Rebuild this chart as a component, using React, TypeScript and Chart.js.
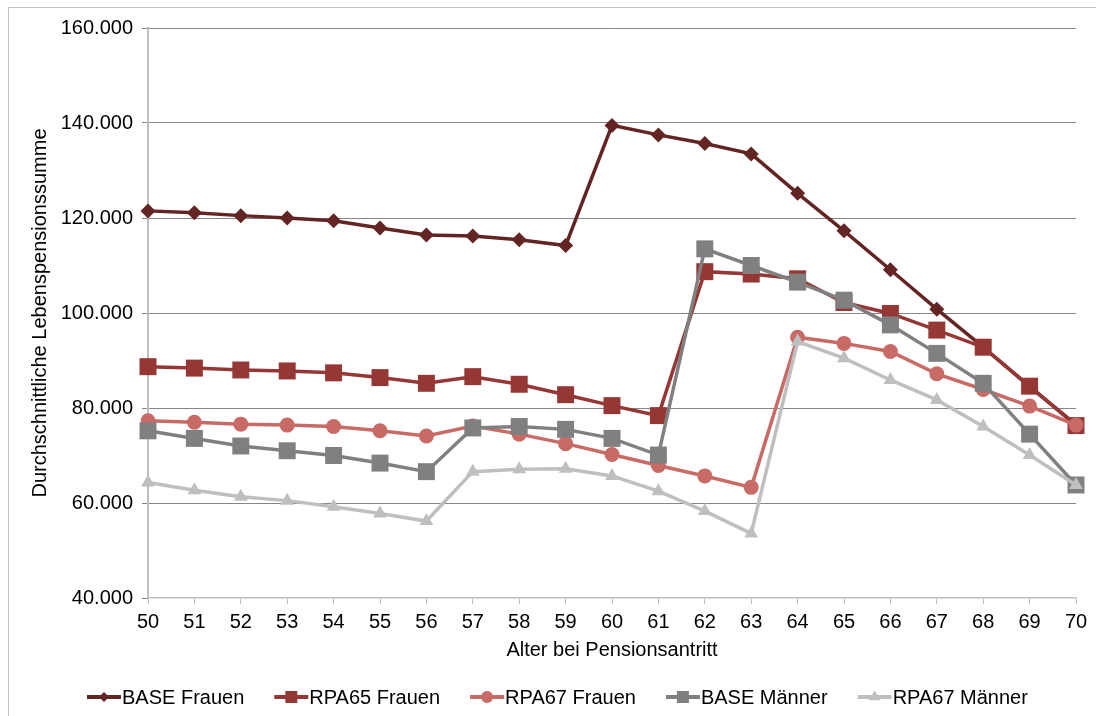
import { useEffect, useRef } from 'react';
import { Chart, registerables } from 'chart.js';

Chart.register(...registerables);

// Alter bei Pensionsantritt
const ages = ['50', '51', '52', '53', '54', '55', '56', '57', '58', '59', '60', '61', '62', '63', '64', '65', '66', '67', '68', '69', '70'];

// Durchschnittliche Lebenspensionssumme je Szenario
const baseFrauen = [121500, 121100, 120500, 120000, 119400, 117900, 116400, 116200, 115400, 114200, 139500, 137500, 135700, 133500, 125200, 117300, 109100, 100800, 92800, 84500, 76500];
const rpa65Frauen = [88700, 88400, 88000, 87800, 87400, 86400, 85200, 86600, 85000, 82800, 80500, 78400, 108700, 108200, 107200, 102200, 99900, 96400, 92800, 84600, 76300];
const rpa67Frauen = [77300, 77000, 76600, 76400, 76100, 75200, 74100, 76200, 74500, 72500, 70200, 67900, 65700, 63300, 94900, 93600, 91900, 87200, 83900, 80400, 76400];
const baseMaenner = [75200, 73600, 72000, 71000, 70000, 68400, 66600, 75800, 76100, 75500, 73600, 70100, 113500, 110000, 106500, 102700, 97500, 91500, 85200, 74500, 63800];
const rpa67Maenner = [64300, 62700, 61300, 60500, 59200, 57800, 56200, 66600, 67100, 67200, 65700, 62500, 58300, 53600, 94000, 90500, 85900, 81700, 76100, 70100, 63800];

const seriesNames = ['BASE Frauen', 'RPA65 Frauen', 'RPA67 Frauen', 'BASE Männer', 'RPA67 Männer'];

const yMin = 40000;
const yMax = 160000;
const yStep = 20000;

const FONT = '"Liberation Sans", Arial, Helvetica, sans-serif';

// Marker drawn next to each legend entry, styled like the series marker.
function drawLegendMarker(ctx: CanvasRenderingContext2D, style: string, x: number, y: number, color: string) {
  ctx.fillStyle = color;
  ctx.beginPath();
  if (style === 'rectRot') {
    const r = 5;
    ctx.moveTo(x - r, y);
    ctx.lineTo(x, y - r);
    ctx.lineTo(x + r, y);
    ctx.lineTo(x, y + r);
    ctx.closePath();
  } else if (style === 'rect') {
    const h = 6;
    ctx.rect(x - h, y - h, 2 * h, 2 * h);
  } else if (style === 'circle') {
    ctx.arc(x, y, 6, 0, Math.PI * 2);
  } else if (style === 'triangle') {
    const r = 6.5;
    ctx.moveTo(x, y - r);
    ctx.lineTo(x + r * 0.866, y + r * 0.5);
    ctx.lineTo(x - r * 0.866, y + r * 0.5);
    ctx.closePath();
  }
  ctx.fill();
}

const lineLegend = {
  id: 'lineLegend',
  afterDraw(chart: any) {
    const ctx: CanvasRenderingContext2D = chart.ctx;
    const datasets = chart.data.datasets;
    const y = 697;
    const lineLen = 34;
    const gap = 30;
    ctx.save();
    ctx.font = `20px ${FONT}`;
    ctx.textBaseline = 'middle';
    ctx.textAlign = 'left';
    let x = 87;
    datasets.forEach((ds: any) => {
      ctx.strokeStyle = ds.borderColor;
      ctx.lineWidth = 4;
      ctx.beginPath();
      ctx.moveTo(x, y);
      ctx.lineTo(x + lineLen, y);
      ctx.stroke();
      drawLegendMarker(ctx, ds.pointStyle, x + lineLen / 2, y, ds.borderColor);
      ctx.fillStyle = '#000000';
      ctx.fillText(ds.label, x + lineLen + 1, y + 1);
      x += lineLen + 1 + ctx.measureText(ds.label).width + gap;
    });
    ctx.restore();
  },
};

export default function App() {
  const canvasRef = useRef<HTMLCanvasElement | null>(null);

  useEffect(() => {
    const canvas = canvasRef.current;
    if (!canvas) return;

    const series = [
      { data: baseFrauen, color: '#632523', style: 'rectRot', radius: 7.5 },
      { data: rpa65Frauen, color: '#953735', style: 'rect', radius: 12 },
      { data: rpa67Frauen, color: '#C86A66', style: 'circle', radius: 7.5 },
      { data: baseMaenner, color: '#808080', style: 'rect', radius: 12 },
      { data: rpa67Maenner, color: '#BFBFBF', style: 'triangle', radius: 8 },
    ];

    const chart = new Chart(canvas, {
      type: 'line',
      data: {
        labels: ages,
        datasets: series.map((s, i) => ({
          label: seriesNames[i],
          data: s.data,
          borderColor: s.color,
          backgroundColor: s.color,
          borderWidth: 3.5,
          pointStyle: s.style as any,
          pointRadius: s.radius,
          pointHoverRadius: s.radius,
          pointBackgroundColor: s.color,
          pointBorderColor: s.color,
          pointBorderWidth: 0,
          tension: 0,
          order: series.length - i,
        })),
      },
      options: {
        responsive: false,
        animation: false,
        devicePixelRatio: 1,
        layout: { padding: { left: 28, right: 20, top: 28, bottom: 0 } },
        plugins: {
          legend: { display: false },
          tooltip: { enabled: false },
        },
        scales: {
          x: {
            type: 'category',
            offset: false,
            grid: {
              display: true,
              drawOnChartArea: false,
              drawTicks: true,
              tickLength: 6,
              color: '#BFBFBF',
              tickColor: '#BFBFBF',
            },
            border: { display: true, color: '#BFBFBF', width: 1.5 },
            ticks: {
              color: '#000000',
              font: { family: FONT, size: 20 },
              padding: 6,
              maxRotation: 0,
              autoSkip: false,
            },
            title: {
              display: true,
              text: 'Alter bei Pensionsantritt',
              color: '#000000',
              font: { family: FONT, size: 20 },
              padding: { top: 0, bottom: 54 },
            },
            afterFit: (scale: any) => {
              scale.height = 118;
            },
          },
          y: {
            min: yMin,
            max: yMax,
            ticks: {
              stepSize: yStep,
              color: '#000000',
              font: { family: FONT, size: 20 },
              padding: 9,
              callback: (v: any) => `${Math.round(Number(v) / 1000)}.000`,
            },
            grid: {
              color: (c: any) => (c.tick && c.tick.value === yMin ? 'rgba(0,0,0,0)' : '#868686'),
              tickColor: '#868686',
              tickLength: 6,
              lineWidth: 1,
            },
            border: { display: true, color: '#BFBFBF', width: 2 },
            title: {
              display: true,
              text: 'Durchschnittliche Lebenspensionssumme',
              color: '#000000',
              font: { family: FONT, size: 20 },
              padding: { top: 0, bottom: 0 },
            },
            afterFit: (scale: any) => {
              scale.width = 120;
            },
          },
        },
      },
      plugins: [lineLegend],
    });

    return () => chart.destroy();
  }, []);

  return (
    <div style={{ position: 'fixed', left: 0, top: 0, width: 1096, height: 716, overflow: 'hidden', background: '#ffffff' }}>
      <canvas ref={canvasRef} width={1096} height={716} style={{ position: 'absolute', left: 0, top: 0, width: 1096, height: 716 }} />
      <div
        style={{
          position: 'absolute',
          left: 8,
          top: 7,
          width: 1110,
          height: 730,
          border: '1px solid #C4C4C4',
          pointerEvents: 'none',
        }}
      />
    </div>
  );
}
